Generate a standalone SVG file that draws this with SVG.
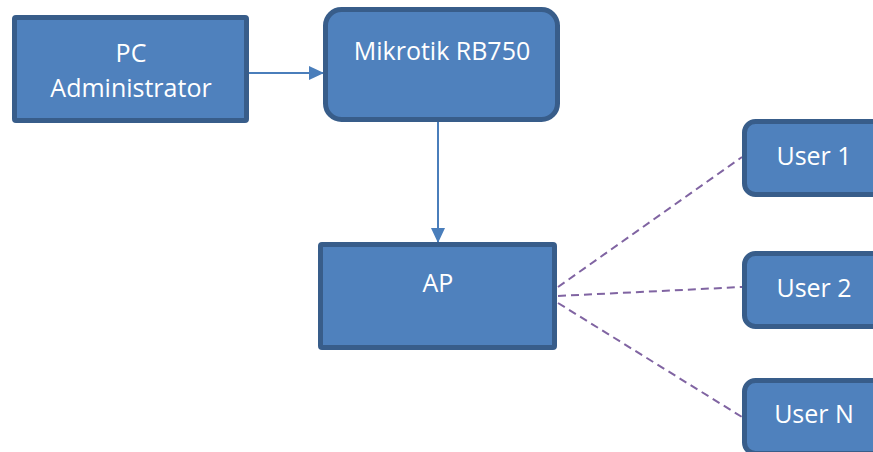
<svg xmlns="http://www.w3.org/2000/svg" width="873" height="452" viewBox="0 0 873 452">
<defs>
<style>
.box{fill:#4F81BD;stroke:#385D8A;stroke-width:5}
.t{fill:#FFFFFF;font-family:"Open Sans","Noto Sans","Liberation Sans",sans-serif;font-size:25px;text-anchor:middle}
.arr{stroke:#4A7EBB;stroke-width:2;fill:none}
.dash{stroke:#8064A2;stroke-width:2;stroke-dasharray:8 5;fill:none}
</style>
<marker id="ah" markerWidth="16" markerHeight="14" refX="15" refY="7" orient="auto" markerUnits="userSpaceOnUse">
<path d="M0,0 L15,7 L0,14 Z" fill="#4A7EBB"/>
</marker>
</defs>
<rect width="873" height="452" fill="#FFFFFF"/>
<g id="connectors">
<line class="arr" x1="249" y1="73" x2="324" y2="73" marker-end="url(#ah)"/>
<line class="arr" x1="438" y1="122" x2="438" y2="243" marker-end="url(#ah)"/>
<line class="dash" x1="558" y1="287" x2="742" y2="157"/>
<line class="dash" x1="558" y1="296" x2="742" y2="287"/>
<line class="dash" x1="558" y1="303" x2="742" y2="417"/>
</g>
<g id="pc">
<rect class="box" x="14.5" y="17.5" width="232" height="103" rx="1.5"/>
<text class="t" x="131" y="62">PC</text>
<text class="t" x="131" y="97">Administrator</text>
</g>
<g id="mikrotik">
<rect class="box" x="325.5" y="9.5" width="232" height="110" rx="16"/>
<text class="t" x="442" y="60">Mikrotik RB750</text>
</g>
<g id="ap">
<rect class="box" x="320.5" y="244.5" width="234" height="103" rx="1.5"/>
<text class="t" x="438" y="292">AP</text>
</g>
<g id="user1">
<rect class="box" x="744.5" y="121.5" width="160" height="73" rx="11"/>
<text class="t" x="814" y="165">User 1</text>
</g>
<g id="user2">
<rect class="box" x="744.5" y="253.5" width="160" height="73" rx="11"/>
<text class="t" x="814" y="297">User 2</text>
</g>
<g id="userN">
<rect class="box" x="744.5" y="380.5" width="160" height="73" rx="11"/>
<text class="t" x="814" y="423">User N</text>
</g>
</svg>
